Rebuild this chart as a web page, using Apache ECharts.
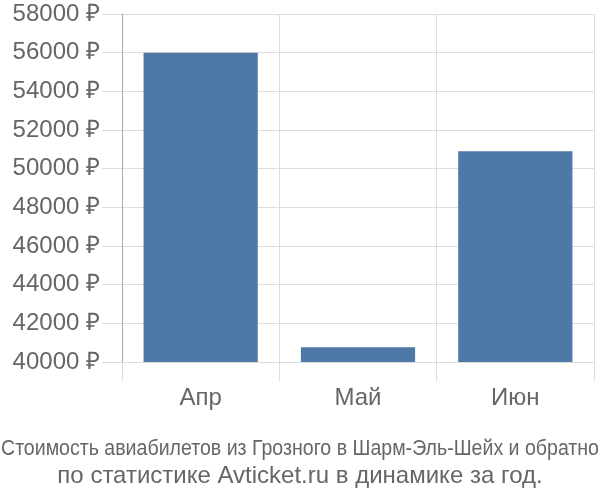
<!DOCTYPE html>
<html><head><meta charset="utf-8">
<script src="https://cdn.jsdelivr.net/npm/echarts@6/dist/echarts.min.js"></script>
<style>html,body{margin:0;padding:0;background:#fff}#c{width:600px;height:500px}</style>
</head><body><div id="c"></div>
<script>
const categories = ['Апр', 'Май', 'Июн'];
const prices = [56000, 40760, 50900];
const yTicks = {min: 40000, max: 58000, step: 2000};
const titleLine1 = 'Стоимость авиабилетов из Грозного в Шарм-Эль-Шейх и обратно';
const titleLine2 = 'по статистике Avticket.ru в динамике за год.';

const FONT = 'Liberation Sans, Arimo, Arial, sans-serif';
function measure(text, size) {
  const c = document.createElement('canvas').getContext('2d');
  c.font = size + 'px ' + FONT;
  return c.measureText(text).width;
}
const t1Size = 22;
const t1Scale = 598 / measure(titleLine1, t1Size);

const chart = echarts.init(document.getElementById('c'));
chart.setOption({
  animation: false,
  graphic: [
    {type: 'text', x: 300, y: 460, scaleX: t1Scale, scaleY: 1,
     style: {text: titleLine1, font: t1Size + 'px ' + FONT, fill: '#666', align: 'center', verticalAlign: 'bottom'}},
    {type: 'text', x: 300, y: 488,
     style: {text: titleLine2, font: '24px ' + FONT, fill: '#666', align: 'center', verticalAlign: 'bottom'}}
  ],
  grid: {left: 122, right: 6, top: 14, bottom: 138, containLabel: false},
  xAxis: {
    type: 'category', data: categories,
    axisLine: {show: true, lineStyle: {color: '#ddd'}},
    axisTick: {show: true, length: 19, lineStyle: {color: '#ddd'}},
    splitLine: {show: true, lineStyle: {color: '#ddd'}},
    axisLabel: {margin: 24, fontSize: 24, color: '#666', fontFamily: FONT}
  },
  yAxis: {
    type: 'value', min: yTicks.min, max: yTicks.max, interval: yTicks.step,
    axisLine: {show: true, lineStyle: {color: '#aaa'}},
    axisTick: {show: true, length: 20, lineStyle: {color: '#ddd'}},
    splitLine: {show: true, lineStyle: {color: '#ddd'}},
    axisLabel: {margin: 22, fontSize: 24, color: '#666', fontFamily: FONT,
      formatter: v => v + ' ₽'}
  },
  series: [{
    type: 'bar', data: prices, barWidth: '72.6%',
    itemStyle: {color: '#4e79a7'}
  }]
});
</script></body></html>
